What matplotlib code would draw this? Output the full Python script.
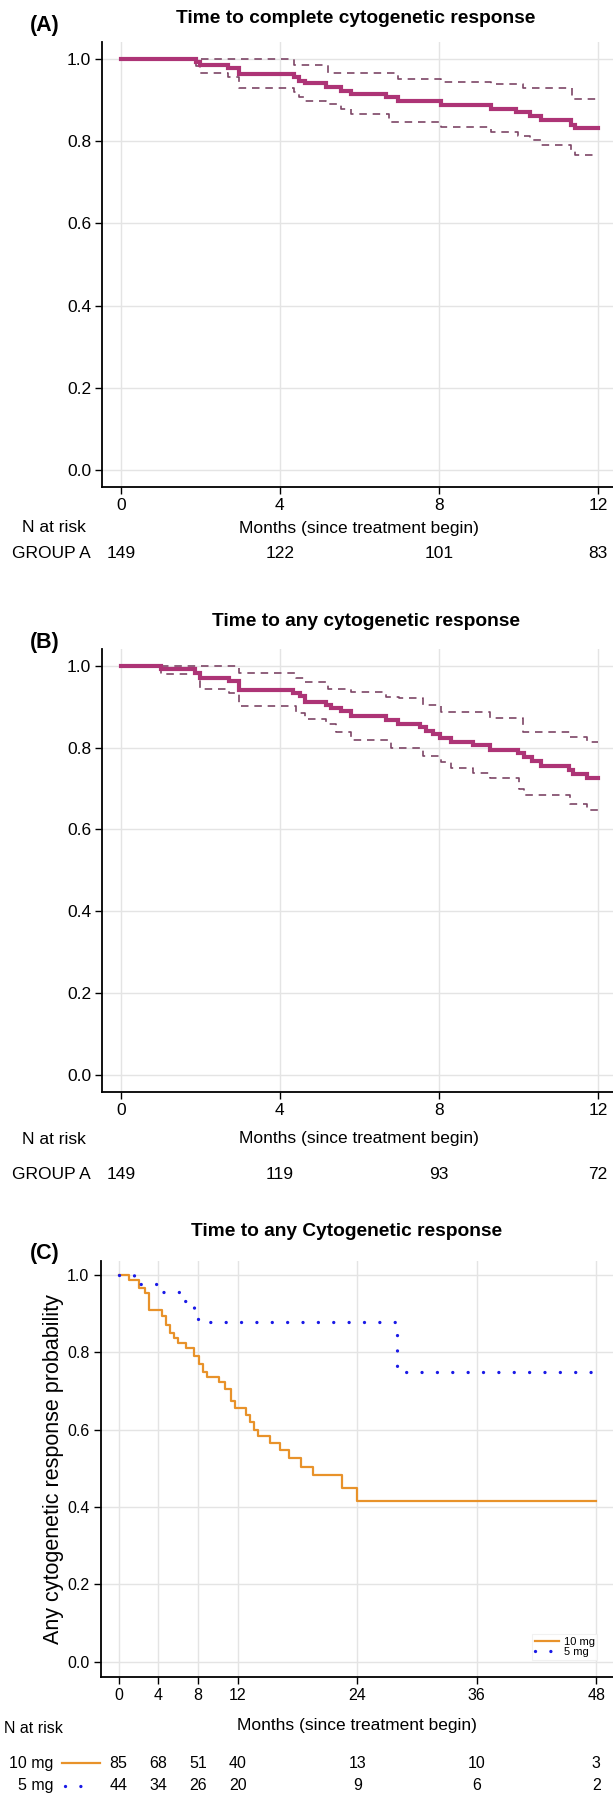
import numpy as np
import matplotlib
matplotlib.use("Agg")
import matplotlib.pyplot as plt
from matplotlib.lines import Line2D
from matplotlib.transforms import blended_transform_factory

plt.rcParams['font.family'] = ['Liberation Sans', 'DejaVu Sans']

# ---- panel A : time to complete cytogenetic response (months, KM estimate)
a_time = [0, 1.9, 2.0, 2.7, 2.96, 4.35, 4.48, 4.62, 5.17, 5.54, 5.79, 6.68, 6.97, 8.06, 9.31, 9.94, 10.28, 10.57, 11.31, 11.41]
a_surv = [1.0, 0.993, 0.986, 0.978, 0.962, 0.955, 0.947, 0.940, 0.931, 0.922, 0.914, 0.906, 0.897, 0.888, 0.879, 0.870, 0.861, 0.851, 0.840, 0.832]
a_up_time = [0, 4.35, 5.2, 6.97, 8.06, 9.3, 10.1, 11.35]
a_up_surv = [1.0, 0.985, 0.965, 0.951, 0.944, 0.939, 0.928, 0.903]
a_lo_time = [0, 1.9, 2.0, 2.7, 2.96, 4.35, 4.48, 4.62, 5.17, 5.54, 5.79, 6.75, 8.06, 9.31, 9.99, 10.28, 10.57, 11.31, 11.41]
a_lo_surv = [1.0, 0.982, 0.966, 0.955, 0.929, 0.918, 0.908, 0.898, 0.890, 0.878, 0.865, 0.846, 0.833, 0.822, 0.812, 0.802, 0.790, 0.777, 0.766]
a_risk_months = [0, 4, 8, 12]
a_risk = [149, 122, 101, 83]

# ---- panel B : time to any cytogenetic response
b_time = [0, 1.0, 1.875, 2.0, 2.71, 2.96, 4.33, 4.5, 4.63, 5.17, 5.29, 5.54, 5.79, 6.68, 6.97,
          7.51, 7.68, 7.85, 8.02, 8.31, 8.85, 9.27, 9.99, 10.13, 10.33, 10.57, 11.26, 11.36, 11.71]
b_surv = [1.0, 0.993, 0.982, 0.970, 0.963, 0.940, 0.933, 0.925, 0.911, 0.904, 0.897, 0.889, 0.876, 0.867, 0.858,
          0.850, 0.841, 0.832, 0.823, 0.814, 0.805, 0.795, 0.786, 0.776, 0.766, 0.756, 0.746, 0.736, 0.726]
b_up_time = [0, 2.96, 4.4, 4.62, 5.2, 5.79, 6.68, 7.0, 7.6, 8.06, 9.27, 10.1, 11.3, 11.71]
b_up_surv = [1.0, 0.981, 0.970, 0.960, 0.943, 0.935, 0.924, 0.921, 0.905, 0.888, 0.872, 0.837, 0.825, 0.813]
b_lo_time = [0, 1.0, 2.0, 2.71, 2.96, 4.4, 4.63, 5.17, 5.4, 5.79, 6.8, 7.6, 8.06, 8.31, 8.85, 9.27, 10.0, 10.13, 11.3, 11.71]
b_lo_surv = [1.0, 0.980, 0.943, 0.933, 0.901, 0.885, 0.870, 0.858, 0.838, 0.819, 0.799, 0.780, 0.765, 0.749, 0.738, 0.725, 0.699, 0.683, 0.663, 0.648]
b_risk_months = [0, 4, 8, 12]
b_risk = [149, 119, 93, 72]

# ---- panel C : any cytogenetic response by dose
c10_time = [0, 1.06, 2.04, 2.63, 3.02, 4.40, 4.79, 5.18, 5.58, 5.97, 6.76, 7.6, 8.13, 8.52, 8.92, 10.09,
            10.68, 11.27, 11.67, 12.84, 13.24, 13.63, 14.02, 15.20, 16.18, 17.16, 18.34, 19.52, 22.47, 23.92]
c10_surv = [1.0, 0.988, 0.965, 0.953, 0.909, 0.893, 0.870, 0.850, 0.836, 0.825, 0.810, 0.790, 0.770, 0.750, 0.737, 0.722,
            0.705, 0.675, 0.655, 0.638, 0.620, 0.600, 0.583, 0.566, 0.547, 0.526, 0.504, 0.482, 0.450, 0.416]
c5_time = [0, 1.6, 4.0, 6.5, 7.6, 8.0, 28.0]
c5_surv = [1.0, 0.977, 0.955, 0.932, 0.909, 0.879, 0.750]
c_risk_months = [0, 4, 8, 12, 24, 36, 48]
c10_risk = [85, 68, 51, 40, 13, 10, 3]
c5_risk = [44, 34, 26, 20, 9, 6, 2]

W, H = 613, 1794
fig = plt.figure(figsize=(W / 100, H / 100), dpi=100)


def fx(p):
    return p / W


def fy(p):
    return 1 - p / H


KM_COL = '#AD3476'
CI_COL = '#7D4566'
ORANGE = '#E8922A'
BLUE = '#1A1AE6'
GRID = '#E4E4E4'


def add_ax(left, top, bottom):
    return fig.add_axes([fx(left), fy(bottom), 1 - fx(left), (bottom - top) / H])


def style(ax, xticks, xlim, ylim, fs):
    ax.set_xlim(*xlim)
    ax.set_ylim(*ylim)
    ax.set_xticks(xticks)
    ax.set_yticks([0, 0.2, 0.4, 0.6, 0.8, 1.0])
    ax.set_yticklabels(['0.0', '0.2', '0.4', '0.6', '0.8', '1.0'])
    ax.grid(True, color=GRID, lw=1)
    ax.set_axisbelow(True)
    for s in ['top', 'right']:
        ax.spines[s].set_visible(False)
    for s in ['left', 'bottom']:
        ax.spines[s].set_linewidth(1.3)
    ax.tick_params(length=5, width=1, labelsize=fs, pad=3)


def stepline(ax, t, s, end, **kw):
    ax.step(np.append(t, end), np.append(s, s[-1]), where='post', **kw)


def km_panel(top, bottom, t, s, tu, su, tl, sl, title, title_x, tag, title_y, tag_y,
             risk_m, risk, nrisk_y, group_y):
    ax = add_ax(102.4, top, bottom)
    style(ax, [0, 4, 8, 12], (-0.463, 12.375), (-0.041, 1.04), 12.5)
    stepline(ax, tu, su, 12, color=CI_COL, lw=1.2, dashes=(4.5, 3.5))
    stepline(ax, tl, sl, 12, color=CI_COL, lw=1.2, dashes=(4.5, 3.5))
    stepline(ax, t, s, 12, color=KM_COL, lw=3.0, solid_joinstyle='miter')
    fig.text(fx(title_x), fy(title_y), title, ha='center', va='center',
             fontsize=13.8, fontweight='bold')
    fig.text(fx(30), fy(tag_y), tag, ha='left', va='center', fontsize=15.5, fontweight='bold')
    fig.text(fx(22), fy(nrisk_y), 'N at risk', ha='left', va='center', fontsize=12.5)
    fig.text(fx(359), fy(nrisk_y), 'Months (since treatment begin)', ha='center',
             va='center', fontsize=12.5)
    fig.text(fx(12), fy(group_y), 'GROUP A', ha='left', va='center', fontsize=12.5)
    tr = blended_transform_factory(ax.transData, fig.transFigure)
    for m, n in zip(risk_m, risk):
        ax.text(m, fy(group_y), str(n), transform=tr, ha='center', va='center', fontsize=12.5)
    return ax


km_panel(42.3, 487, a_time, a_surv, a_up_time, a_up_surv, a_lo_time, a_lo_surv,
         'Time to complete cytogenetic response', 356, '(A)', 18.3, 25,
         a_risk_months, a_risk, 528, 553)
km_panel(649.3, 1091.7, b_time, b_surv, b_up_time, b_up_surv, b_lo_time, b_lo_surv,
         'Time to any cytogenetic response', 366, '(B)', 621.7, 642.7,
         b_risk_months, b_risk, 1139, 1174)

# ---- panel C
axc = add_ax(100.5, 1261, 1676.7)
style(axc, c_risk_months, (-1.81, 49.69), (-0.039, 1.036), 11.5)
dotted = dict(color=BLUE, lw=2.4, dashes=(0.01, 4.6), dash_capstyle='round')
stepline(axc, c10_time, c10_surv, 48, color=ORANGE, lw=1.6, label='10 mg')
stepline(axc, c5_time, c5_surv, 48, label='5 mg', **dotted)
axc.set_ylabel('Any cytogenetic response probability', fontsize=15.5, labelpad=2)
leg = axc.legend(loc='center left', bbox_to_anchor=(fx(532), fy(1647)),
                 bbox_transform=fig.transFigure, fontsize=8, frameon=True,
                 handlelength=2.2, handletextpad=0.4, labelspacing=0.05,
                 borderpad=0.25, borderaxespad=0)
leg.get_frame().set_edgecolor('#EEEEEE')
leg.get_frame().set_linewidth(0.8)
leg.get_frame().set_boxstyle('square', pad=0)

fig.text(fx(347), fy(1232), 'Time to any Cytogenetic response', ha='center',
         va='center', fontsize=13.8, fontweight='bold')
fig.text(fx(30), fy(1254), '(C)', ha='left', va='center', fontsize=15.5, fontweight='bold')
fig.text(fx(4), fy(1728), 'N at risk', ha='left', va='center', fontsize=11.5)
fig.text(fx(357), fy(1725.7), 'Months (since treatment begin)', ha='center',
         va='center', fontsize=12.5)

tr = blended_transform_factory(axc.transData, fig.transFigure)
for lab, y, risk in [('10 mg', 1763, c10_risk), ('5 mg', 1785.7, c5_risk)]:
    fig.text(fx(53), fy(y), lab, ha='right', va='center', fontsize=11.5)
    for m, n in zip(c_risk_months, risk):
        axc.text(m, fy(y), str(n), transform=tr, ha='center', va='center', fontsize=11.5)
fig.add_artist(Line2D([fx(62), fx(100)], [fy(1763), fy(1763)], color=ORANGE, lw=1.6))
fig.add_artist(Line2D([fx(64.5), fx(93)], [fy(1785.7), fy(1785.7)], **dotted))

fig.savefig('out.png', dpi=100)
